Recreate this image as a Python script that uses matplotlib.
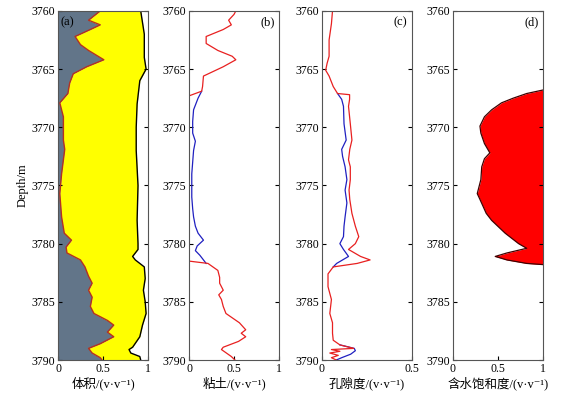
import numpy as np
import matplotlib
matplotlib.use("Agg")
import matplotlib.pyplot as plt

plt.rcParams['font.family'] = ['Liberation Serif', 'Noto Sans CJK SC', 'DejaVu Serif']

# ---- Panel (a): volume model ----
a_depth = [3760, 3760.8, 3761.2, 3761.6, 3762.2, 3762.9, 3763.4, 3764.2, 3764.8, 3765.4, 3766.2,
           3767.1, 3767.9, 3769.1, 3771.1, 3771.9, 3774.0, 3775.7, 3777.7, 3779.1, 3779.7, 3780.3,
           3780.8, 3781.4, 3782.0, 3782.8, 3783.4, 3784.0, 3784.6, 3785.4, 3786.0, 3786.6, 3787.0,
           3787.6, 3788.0, 3788.6, 3789.0, 3789.4, 3789.8, 3790]
a_shale = [0.47, 0.34, 0.47, 0.36, 0.19, 0.25, 0.34, 0.51, 0.32, 0.17, 0.13,
           0.11, 0.02, 0.06, 0.06, 0.075, 0.04, 0.02, 0.04, 0.07, 0.15, 0.09,
           0.10, 0.25, 0.30, 0.34, 0.38, 0.34, 0.38, 0.36, 0.40, 0.55, 0.62,
           0.55, 0.62, 0.47, 0.34, 0.38, 0.47, 0.49]
a_rdepth = [3760, 3762, 3764, 3765, 3766, 3768, 3770, 3772, 3775, 3778, 3780, 3780.5, 3781.1,
            3781.4, 3782, 3783, 3784, 3785, 3786, 3787, 3788, 3788.9, 3789.1, 3789.4, 3789.7, 3790]
a_right = [0.92, 0.96, 0.96, 0.98, 0.91, 0.88, 0.87, 0.87, 0.89, 0.88, 0.89, 0.89, 0.83,
           0.86, 0.96, 0.97, 0.95, 0.97, 0.98, 0.94, 0.91, 0.83, 0.79, 0.81, 0.91, 0.92]

# ---- Panel (b): clay ----
b_red_depth = [3760, 3760.3, 3760.8, 3761.2, 3761.6, 3762.2, 3762.8, 3763.4, 3763.9, 3764.2, 3764.8,
               3765.6, 3766.5, 3766.9, 3767.3, 3770, 3775, 3780, 3781.5, 3781.7, 3782.3, 3782.9,
               3783.4, 3784.0, 3784.4, 3784.8, 3785.4, 3786.0, 3786.8, 3787.4, 3787.7, 3788.0,
               3788.4, 3788.9, 3789.1, 3789.7, 3790]
b_red = [0.52, 0.50, 0.44, 0.47, 0.38, 0.19, 0.19, 0.32, 0.48, 0.52, 0.38,
         0.16, 0.15, 0.14, 0.0, 0.0, 0.0, 0.0, 0.0, 0.21, 0.32, 0.34,
         0.34, 0.38, 0.33, 0.36, 0.38, 0.41, 0.56, 0.63, 0.58, 0.63,
         0.55, 0.38, 0.36, 0.47, 0.51]
b_blue_depth = [3766.9, 3767.5, 3768.5, 3769.5, 3770.5, 3771.2, 3772, 3773, 3774, 3775, 3776, 3777,
                3777.7, 3778.5, 3779.1, 3779.7, 3780.2, 3780.6, 3781, 3781.7]
b_blue = [0.14, 0.10, 0.05, 0.04, 0.04, 0.07, 0.05, 0.04, 0.03, 0.03, 0.03, 0.04,
          0.05, 0.07, 0.10, 0.16, 0.09, 0.07, 0.12, 0.19]

# ---- Panel (c): porosity ----
c_red_depth = [3760, 3761.1, 3762.5, 3763.9, 3764.5, 3765.1, 3765.6, 3766.5, 3767.1, 3767.2, 3767.6,
               3768.2, 3769.7, 3771.1, 3771.9, 3772.8, 3773.4, 3774.5, 3775.4, 3776.2, 3777.4,
               3778.5, 3779.4, 3780.0, 3780.5, 3781.1, 3781.4, 3781.7, 3782.0, 3782.6, 3783.7,
               3784.8, 3786.0, 3786.8, 3787.7, 3788.3, 3788.7, 3789.0, 3789.1, 3789.25, 3789.4,
               3789.6, 3789.8, 3790]
c_red = [0.059, 0.053, 0.040, 0.040, 0.029, 0.021, 0.040, 0.063, 0.087, 0.154, 0.154,
         0.148, 0.158, 0.167, 0.155, 0.148, 0.158, 0.158, 0.151, 0.155, 0.167,
         0.186, 0.205, 0.186, 0.148, 0.215, 0.268, 0.196, 0.063, 0.034, 0.034,
         0.053, 0.044, 0.059, 0.059, 0.063, 0.100, 0.177, 0.053, 0.100, 0.044,
         0.091, 0.053, 0.080]
c_blue_depth = [3767.1, 3767.6, 3768.2, 3769.7, 3771.1, 3771.9, 3772.5, 3773.4, 3774.5, 3775.4,
                3776.5, 3777.7, 3778.5, 3779.4, 3780.0, 3780.5, 3781.1, 3781.7, 3782.0]
c_blue = [0.087, 0.110, 0.120, 0.123, 0.135, 0.110, 0.115, 0.129, 0.139, 0.129,
          0.139, 0.129, 0.123, 0.120, 0.100, 0.120, 0.148, 0.082, 0.063]
c_blue2_depth = [3788.7, 3789.0, 3789.2, 3789.5, 3789.8, 3790]
c_blue2 = [0.100, 0.180, 0.186, 0.160, 0.110, 0.080]

# ---- Panel (d): water saturation ----
d_depth = [3766.8, 3767.1, 3767.5, 3767.9, 3768.5, 3769.1, 3769.9, 3770.5, 3771.4, 3772.2, 3772.7,
           3773.4, 3774.5, 3775.7, 3776.2, 3777.4, 3778.0, 3779.1, 3780.0, 3780.4, 3780.8,
           3781.1, 3781.4, 3781.7, 3781.8]
d_sw = [1.0, 0.82, 0.67, 0.54, 0.43, 0.35, 0.30, 0.31, 0.35, 0.41, 0.35,
        0.32, 0.31, 0.27, 0.30, 0.37, 0.43, 0.58, 0.73, 0.82, 0.60,
        0.47, 0.60, 0.82, 1.0]

yticks = [3760, 3765, 3770, 3775, 3780, 3785, 3790]
panel_labels = ['(a)', '(b)', '(c)', '(d)']
xlabels = ['体积/(v·v⁻¹)', '粘土/(v·v⁻¹)', '孔隙度/(v·v⁻¹)', '含水饱和度/(v·v⁻¹)']

fig = plt.figure(figsize=(5.8, 3.99), dpi=100)
lefts = [0.100, 0.326, 0.555, 0.781]
width = 0.155
bottom = 0.0977
height = 0.875
spine_c = '#555555'
axes = []
for i, l in enumerate(lefts):
    ax = fig.add_axes([l, bottom, width, height])
    ax.set_ylim(3790, 3760)
    ax.set_yticks(yticks)
    ax.tick_params(direction='in', length=3, labelsize=8.5, colors='black',
                   right=True, top=False, pad=2)
    for s in ax.spines.values():
        s.set_color(spine_c)
        s.set_linewidth(0.8)
    ax.set_xlabel(xlabels[i], fontsize=9, labelpad=1)
    axes.append(ax)

# (a)
ax = axes[0]
ax.set_xlim(0, 1)
ax.set_xticks([0, 0.5, 1])
ax.set_xticklabels(['0', '0.5', '1'])
ax.fill_betweenx(a_depth, 0, a_shale, color='#627589', lw=0)
ax.fill_betweenx(a_depth, a_shale, 1, color='#ffff00', lw=0)
ax.fill_betweenx(a_rdepth, a_right, 1, color='white', lw=0)
ax.plot(a_shale, a_depth, color='#b5321e', lw=1.0)
ax.plot(a_right, a_rdepth, color='black', lw=1.0)
ax.set_ylabel('Depth/m', fontsize=9, labelpad=2)
ax.text(0.03, 0.985, '(a)', transform=ax.transAxes, fontsize=9, va='top', ha='left')

# (b)
ax = axes[1]
ax.set_xlim(0, 1)
ax.set_xticks([0, 0.5, 1])
ax.set_xticklabels(['0', '0.5', '1'])
ax.plot(b_blue, b_blue_depth, color='#2020c0', lw=0.9)
ax.plot(b_red, b_red_depth, color='#e82020', lw=0.9)
ax.text(0.95, 0.985, '(b)', transform=ax.transAxes, fontsize=9, va='top', ha='right')

# (c)
ax = axes[2]
ax.set_xlim(0, 0.5)
ax.set_xticks([0, 0.5])
ax.set_xticklabels(['0', '0.5'])
ax.plot(c_blue, c_blue_depth, color='#2020c0', lw=0.9)
ax.plot(c_blue2, c_blue2_depth, color='#2020c0', lw=0.9)
ax.plot(c_red, c_red_depth, color='#e82020', lw=0.9)
ax.text(0.95, 0.985, '(c)', transform=ax.transAxes, fontsize=9, va='top', ha='right')

# (d)
ax = axes[3]
ax.set_xlim(0, 1)
ax.set_xticks([0, 0.5, 1])
ax.set_xticklabels(['0', '0.5', '1'])
ax.fill_betweenx(d_depth, d_sw, 1, color='#ff0000', lw=0)
ax.plot(d_sw, d_depth, color='#400000', lw=0.9)
ax.text(0.95, 0.985, '(d)', transform=ax.transAxes, fontsize=9, va='top', ha='right')

fig.savefig('out.png', dpi=100)
